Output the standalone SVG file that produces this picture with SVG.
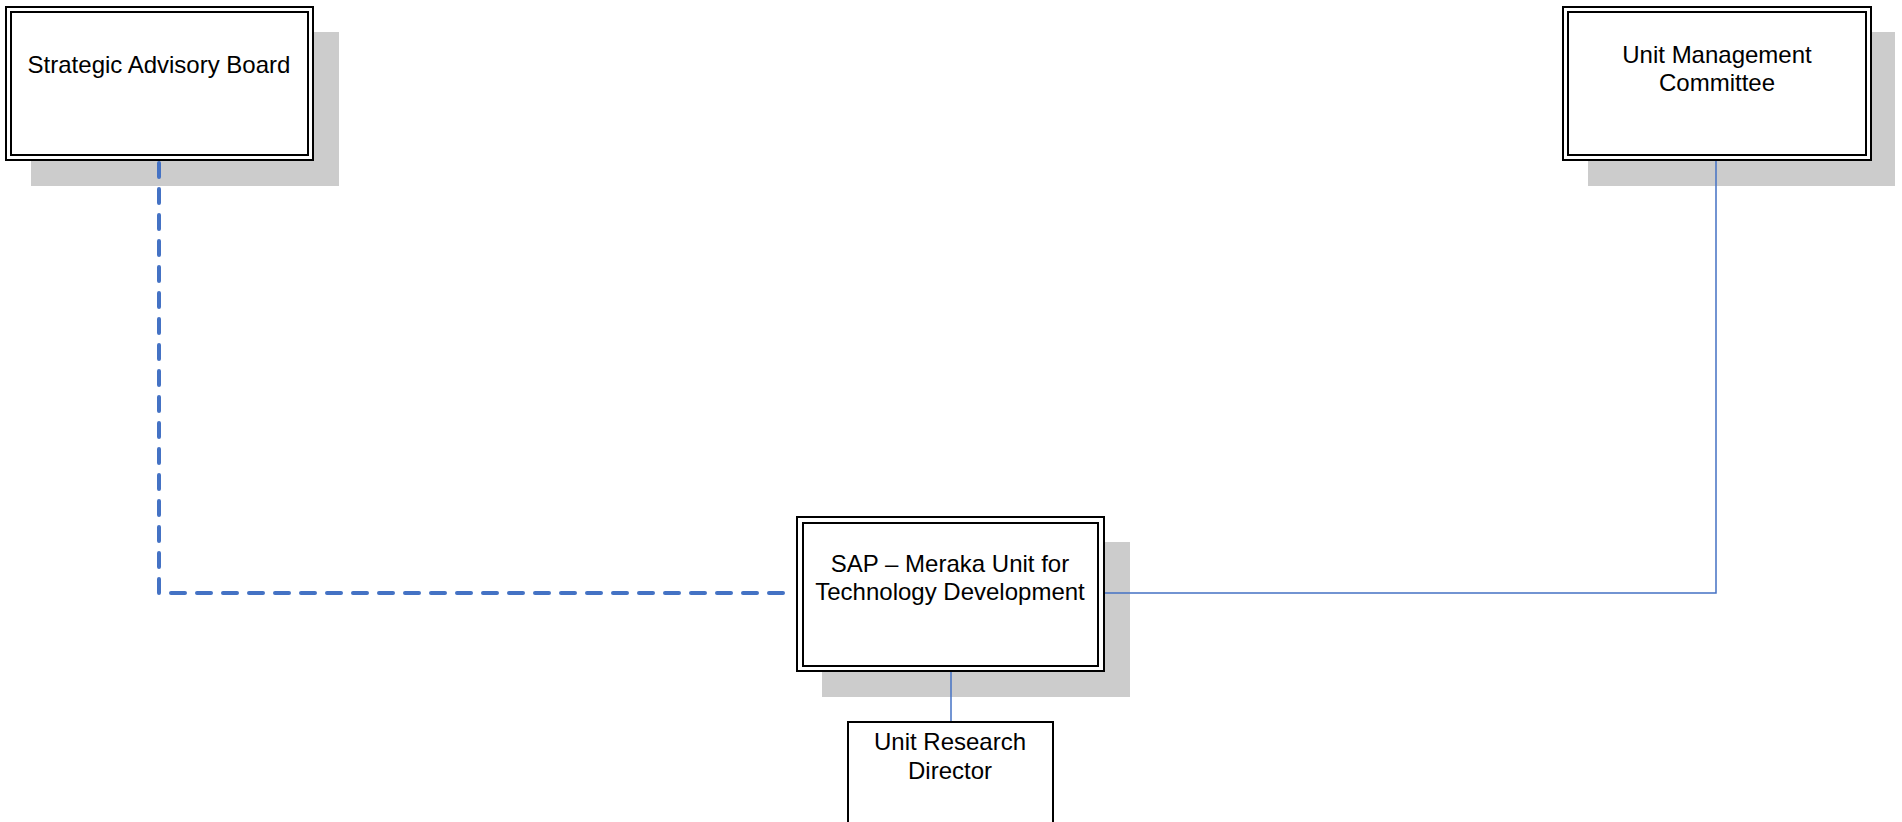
<svg xmlns="http://www.w3.org/2000/svg" width="1902" height="822" viewBox="0 0 1902 822">
<style>
.shadow{fill:#cccccc;stroke:none}
.outer{fill:#ffffff;stroke:#000000;stroke-width:2}
.inner{fill:none;stroke:#000000;stroke-width:2}
.single{fill:#ffffff;stroke:#000000;stroke-width:2}
.lbl{font-family:"Liberation Sans",Arial,sans-serif;font-size:24px;fill:#000000;text-anchor:middle}
.solid{fill:none;stroke:#4472C4;stroke-width:1.5}
.dash{fill:none;stroke:#4472C4;stroke-width:4;stroke-dasharray:14 12;stroke-linecap:round;stroke-linejoin:round}
</style>
<rect width="1902" height="822" fill="#ffffff"/>
<g id="node-sab">
<rect class="shadow" x="31" y="32" width="308" height="154"/>
<rect class="outer" x="6" y="7" width="307" height="153"/>
<rect class="inner" x="11" y="12" width="297" height="143"/>
<text class="lbl" x="159" y="73">Strategic Advisory Board</text>
</g>
<g id="node-umc">
<rect class="shadow" x="1588" y="32" width="307" height="154"/>
<rect class="outer" x="1563" y="7" width="308" height="153"/>
<rect class="inner" x="1568" y="12" width="298" height="143"/>
<text class="lbl" x="1717" y="63">Unit Management</text>
<text class="lbl" x="1717" y="91">Committee</text>
</g>
<g id="node-sap">
<rect class="shadow" x="822" y="542" width="308" height="155"/>
<rect class="outer" x="797" y="517" width="307" height="154"/>
<rect class="inner" x="803" y="523" width="295" height="143"/>
<text class="lbl" x="950" y="572">SAP – Meraka Unit for</text>
<text class="lbl" x="950" y="600">Technology Development</text>
</g>
<g id="node-urd">
<rect class="single" x="848" y="722" width="205" height="120"/>
<text class="lbl" x="950" y="750">Unit Research</text>
<text class="lbl" x="950" y="779">Director</text>
</g>
<g id="connectors">
<path class="dash" d="M159,163 V593 H795"/>
<path class="solid" d="M1716,161 V593 H1105"/>
<path class="solid" d="M951,672 V721"/>
</g>
</svg>
